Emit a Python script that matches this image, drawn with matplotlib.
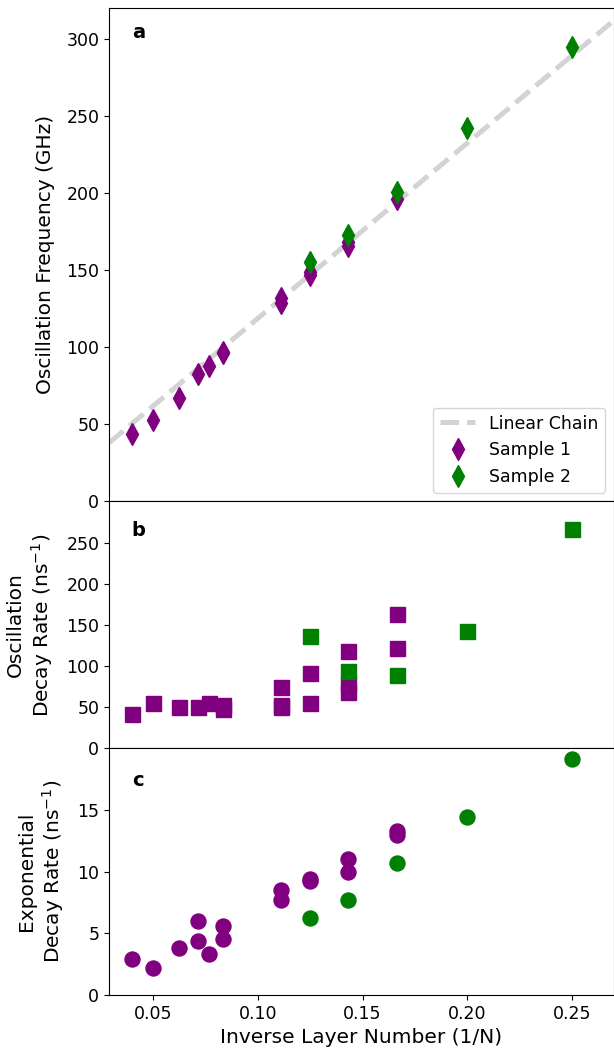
import numpy as np
import matplotlib
matplotlib.use("Agg")
import matplotlib.pyplot as plt

# panel a: oscillation frequency (GHz)
s1_freq_x = [1/25, 1/20, 1/16, 1/14, 1/13, 1/12, 1/12, 1/9, 1/9, 1/8, 1/8, 1/7, 1/7, 1/6]
s1_freq_y = [44, 53, 67, 83, 88, 96, 97, 129, 132, 147, 149, 166, 168, 196]
s2_freq_x = [1/8, 1/7, 1/6, 1/5, 1/4]
s2_freq_y = [155.5, 172.5, 200.5, 242, 295]
chain_x = [0.029, 0.27]
chain_y = [38, 312]

# panel b: oscillation decay rate (1/ns)
s1_osc_x = [1/25, 1/20, 1/16, 1/14, 1/13, 1/12, 1/12, 1/9, 1/9, 1/9,
            1/8, 1/8, 1/7, 1/7, 1/7, 1/6, 1/6]
s1_osc_y = [42, 54.5, 50.5, 50.5, 55.5, 52.5, 47.5, 74, 52.5, 50,
            91, 55.5, 118.5, 78, 68.5, 163.5, 121.5]
s2_osc_x = [1/8, 1/7, 1/6, 1/5, 1/4]
s2_osc_y = [136, 94, 89, 143, 266]

# panel c: exponential decay rate (1/ns)
s1_exp_x = [1/25, 1/20, 1/16, 1/14, 1/14, 1/13, 1/12, 1/12, 1/9, 1/9,
            1/8, 1/8, 1/7, 1/7, 1/6, 1/6]
s1_exp_y = [2.9, 2.2, 3.8, 6.0, 4.4, 3.3, 5.6, 4.5, 8.5, 7.7,
            9.4, 9.2, 11.0, 10.0, 13.3, 13.0]
s2_exp_x = [1/8, 1/7, 1/6, 1/5, 1/4]
s2_exp_y = [6.2, 7.7, 10.7, 14.45, 19.1]

purple = "purple"
green = "green"
tick_fs = 12.5
label_fs = 14.5
ms = 10.8
pad = 8

fig = plt.figure(figsize=(6.14, 10.56), dpi=100)
gs = fig.add_gridspec(3, 1, height_ratios=[2, 1, 1], hspace=0,
                      left=0.1775, right=1.0, top=0.9924, bottom=0.0578)
ax1 = fig.add_subplot(gs[0])
ax2 = fig.add_subplot(gs[1], sharex=ax1)
ax3 = fig.add_subplot(gs[2], sharex=ax1)

ax1.plot(chain_x, chain_y, "--", color="lightgray", lw=3.6, label="Linear Chain")
ax1.plot(s1_freq_x, s1_freq_y, "d", color=purple, ms=ms, label="Sample 1")
ax1.plot(s2_freq_x, s2_freq_y, "d", color=green, ms=ms, label="Sample 2")
ax1.set_ylim(0, 320)
ax1.set_yticks(np.arange(0, 301, 50))
ax1.set_ylabel("Oscillation Frequency (GHz)", fontsize=label_fs, labelpad=pad)
ax1.legend(loc="lower right", fontsize=tick_fs)

ax2.plot(s1_osc_x, s1_osc_y, "s", color=purple, ms=ms)
ax2.plot(s2_osc_x, s2_osc_y, "s", color=green, ms=ms)
ax2.set_ylim(0, 300)
ax2.set_yticks(np.arange(0, 251, 50))
ax2.set_ylabel("Oscillation\nDecay Rate (ns$^{-1}$)", fontsize=label_fs, labelpad=pad)

ax3.plot(s1_exp_x, s1_exp_y, "o", color=purple, ms=ms)
ax3.plot(s2_exp_x, s2_exp_y, "o", color=green, ms=ms)
ax3.set_ylim(0, 20)
ax3.set_yticks([0, 5, 10, 15])
ax3.set_ylabel("Exponential\nDecay Rate (ns$^{-1}$)", fontsize=label_fs, labelpad=pad)
ax3.set_xlabel("Inverse Layer Number (1/N)", fontsize=label_fs)

ax1.set_xlim(0.029, 0.27)
ax3.set_xticks([0.05, 0.10, 0.15, 0.20, 0.25])

for ax in (ax1, ax2):
    ax.tick_params(labelbottom=False)
for ax in (ax1, ax2, ax3):
    ax.tick_params(labelsize=tick_fs)

ax1.text(0.045, 0.939, "a", transform=ax1.transAxes, fontsize=14, fontweight="bold")
ax2.text(0.045, 0.862, "b", transform=ax2.transAxes, fontsize=14, fontweight="bold")
ax3.text(0.045, 0.846, "c", transform=ax3.transAxes, fontsize=14, fontweight="bold")

fig.savefig("out.png", dpi=100)
